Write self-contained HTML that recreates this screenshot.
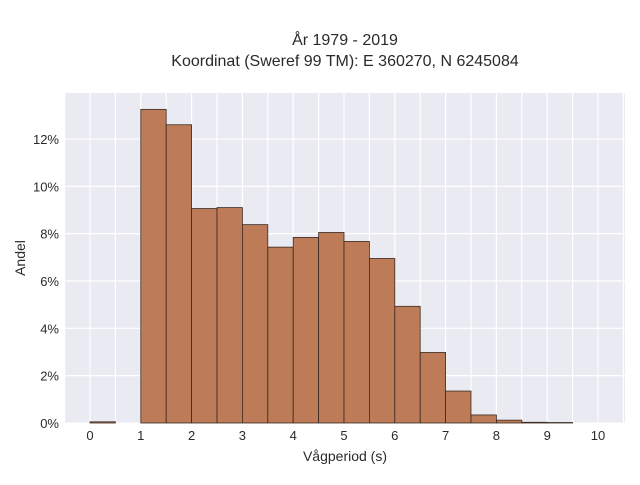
<!DOCTYPE html>
<html><head><meta charset="utf-8"><style>
body{margin:0;background:#fff;font-family:"Liberation Sans",sans-serif}
svg text{font-family:"Liberation Sans",sans-serif;fill:#2a2a2a}
</style></head><body>
<svg width="640" height="480">
<text x="345" y="45" text-anchor="middle" font-size="16">År 1979 - 2019</text>
<text x="345" y="66" text-anchor="middle" font-size="16">Koordinat (Sweref 99 TM): E 360270, N 6245084</text>
<rect x="64" y="93" width="561" height="330" fill="#eaeaf2"/>
<g id="grid"></g><g id="bars"></g><g id="ticks"></g>
<text x="345" y="461" text-anchor="middle" font-size="14">Vågperiod (s)</text>
<text transform="translate(25,258) rotate(-90)" text-anchor="middle" font-size="14">Andel</text>
</svg>
<script>
const binStarts=[0,0.5,1,1.5,2,2.5,3,3.5,4,4.5,5,5.5,6,6.5,7,7.5,8,8.5,9,9.5];
const shares=[0.05,0,13.25,12.6,9.06,9.1,8.38,7.43,7.84,8.05,7.67,6.95,4.93,2.98,1.35,0.34,0.12,0.03,0.02,0];
const xTicks=[0,1,2,3,4,5,6,7,8,9,10];
const yTicks=[0,2,4,6,8,10,12];
const ns="http://www.w3.org/2000/svg";
const X=v=>90+v*50.8, Y=v=>423-v*23.67;
const g=document.getElementById('grid'),b=document.getElementById('bars'),t=document.getElementById('ticks');
function mk(tag,attrs,parent){const e=document.createElementNS(ns,tag);for(const k in attrs)e.setAttribute(k,attrs[k]);parent.appendChild(e);return e;}
for(let v=-0.5;v<=10.5;v+=0.5){const x=X(v);if(x<64||x>625)continue;
const l=mk('line',{x1:x,x2:x,y1:93,y2:423,stroke:'#fff','stroke-width':1.2},g);

}
yTicks.forEach(v=>{const l=mk('line',{x1:64,x2:625,y1:Y(v),y2:Y(v),stroke:'#fff','stroke-width':1.2},g);


const tx=mk('text',{x:59,y:Y(v)+5,'text-anchor':'end','font-size':13},t);tx.textContent=v+'%';

});
xTicks.forEach(v=>{const tx=mk('text',{x:X(v),y:440,'text-anchor':'middle','font-size':13},t);tx.textContent=v;

});
binStarts.forEach((s,i)=>{if(shares[i]<=0)return;const y=Y(shares[i]);
const r=mk('rect',{x:X(s),y:y,width:X(s+0.5)-X(s),height:423-y,fill:'#bd7b57',stroke:'#3a2a22','stroke-width':0.8},b);

});
</script>
</body></html>
